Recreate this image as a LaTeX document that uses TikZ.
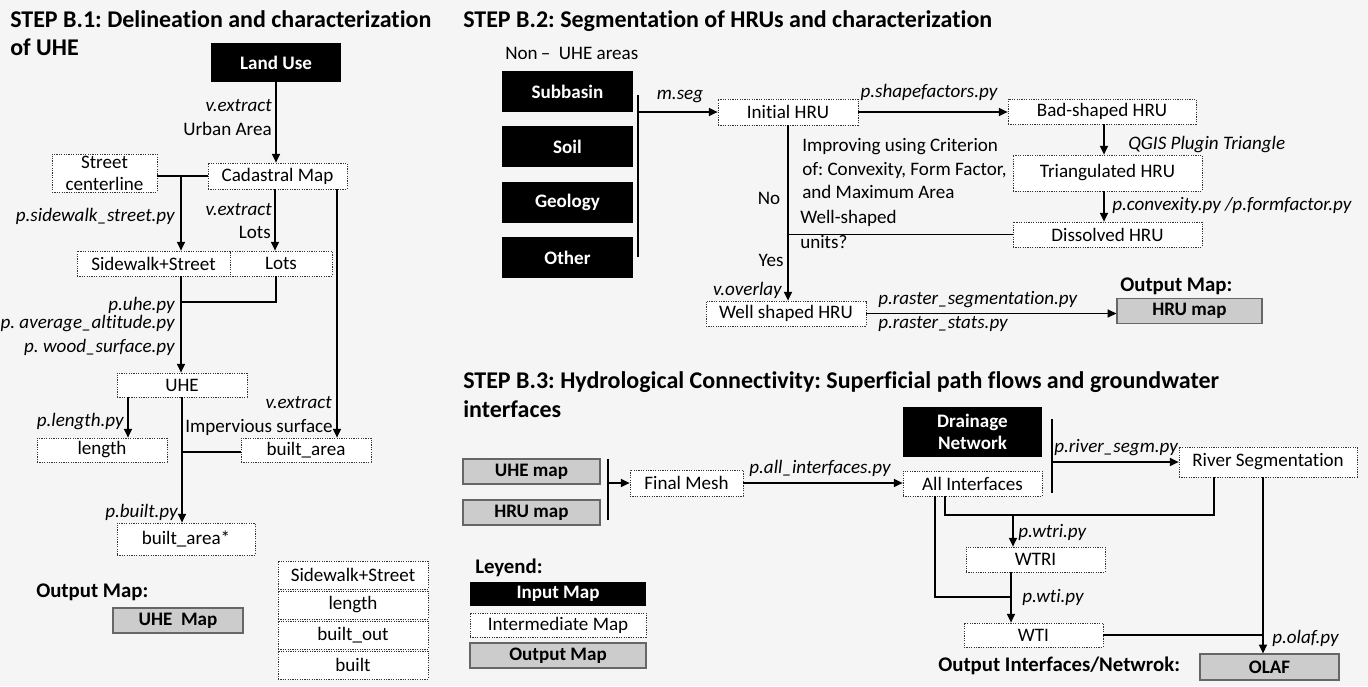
\documentclass[tikz,border=0pt]{standalone}
\usepackage{fontspec}
\setmainfont{Carlito}[Ligatures=NoCommon]
\usetikzlibrary{arrows.meta}
\frenchspacing
\begin{document}
\begin{tikzpicture}[x=0.75pt,y=-0.75pt,
  every node/.style={font=\fontsize{14.3}{17}\selectfont, inner sep=0pt},
  wh/.style 2 args={minimum width={#1*0.75pt}, minimum height={#2*0.75pt}},
  inmap/.style={fill=black, text=white, font=\fontsize{14.3}{16.5}\selectfont\bfseries, align=center},
  midmap/.style={draw=black!80, dash pattern=on 0.9pt off 0.9pt, line width=0.6pt, fill=white, align=center},
  outmap/.style={fill=black!20, draw=black!60, line width=0.9pt, font=\fontsize{14.3}{17}\selectfont\bfseries},
  lab/.style={font=\fontsize{14.3}{17}\selectfont\itshape},
  txt/.style={font=\fontsize{14.3}{17}\selectfont},
  ttl/.style={font=\fontsize{18}{22}\selectfont\bfseries, anchor=base west},
  bld/.style={font=\fontsize{15.6}{19}\selectfont\bfseries},
  flow/.style={line width=1pt, -{Triangle[length=6.5pt,width=6pt]}},
  link/.style={line width=1pt},
]
\fill[black!4] (0,0) rectangle (1368,686);
\useasboundingbox (0,0) rectangle (1368,686);

% ================= STEP B.1 =================
\node[ttl] (t1a) at (10,27) {STEP B.1: Delineation and characterization};
\node[ttl] (t1b) at (10,55) {of UHE};
\node[inmap, wh={130}{39}] (landuse) at (276,62.5) {Land Use};
\node[midmap, wh={139}{26}] (cad) at (277.5,176) {Cadastral Map};
\node[midmap, wh={105}{38}, font=\fontsize{14.3}{16.5}\selectfont] (street) at (104.5,173) {Street\\centerline};
\node[midmap, wh={153}{25}] (sws) at (153.5,263.5) {Sidewalk+Street};
\node[midmap, wh={102}{25}] (lots) at (281,263.5) {Lots};
\node[midmap, wh={130}{24}] (uhe) at (182,385) {UHE};
\node[midmap, wh={130}{24}] (len) at (102,450) {length};
\node[midmap, wh={130}{24}] (barea) at (306,450) {built\_area};
\node[midmap, wh={138}{32}] (bstar) at (186,539) {built\_area*};
\node[bld, anchor=west] (om1) at (36,592) {Output Map:};
\node[outmap, wh={130}{25}] (uhemap) at (178,620.5) {UHE\ \ Map};
\node[midmap, wh={150}{28}] (k1) at (353,575) {Sidewalk+Street};
\node[midmap, wh={150}{28}] (k2) at (353,605) {length};
\node[midmap, wh={150}{28}] (k3) at (353,635) {built\_out};
\node[midmap, wh={150}{28}] (k4) at (353,665) {built};

\node[lab, anchor=east] (l1) at (272,106) {v.extract};
\node[txt, anchor=east] (l2) at (272,129) {Urban Area};
\node[lab, anchor=east] (l3) at (175,216) {p.sidewalk\_street.py};
\node[lab, anchor=east] (l4) at (272,210) {v.extract};
\node[txt, anchor=east] (l5) at (271,232) {Lots};
\node[lab, anchor=east] (l6) at (175,305) {p.uhe.py};
\node[lab, anchor=east] (l7) at (175,324) {p. average\_altitude.py};
\node[lab, anchor=east] (l8) at (175,347) {p. wood\_surface.py};
\node[lab, anchor=east] (l9) at (124,422) {p.length.py};
\node[lab, anchor=east] (l10) at (332,403) {v.extract};
\node[txt, anchor=east] (l11) at (333,427) {Impervious surface};
\node[lab, anchor=east] (l12) at (178,512) {p.built.py};

\coordinate (j1) at (181,176);
\coordinate (x275) at (275,0);
\coordinate (x276) at (276,0);
\coordinate (x337) at (337,0);
\coordinate (x181) at (181,0);
\coordinate (x182) at (182,0);
\coordinate (x128) at (128,0);
\coordinate (j2) at (181,302);
\coordinate (j3) at (182,452);
\draw[flow] (landuse.south) -- (landuse.south |- cad.north);
\draw[link] (street.east |- cad.west) -- (cad.west);
\draw[flow] (j1) -- (j1 |- sws.north);
\draw[flow] (x275 |- cad.south) -- (x275 |- lots.north);
\draw[flow] (x337 |- cad.south) -- (x337 |- barea.north);
\draw[flow] (x181 |- sws.south) -- (x181 |- uhe.north);
\draw[link] (x276 |- lots.south) |- (j2);
\draw[flow] (x128 |- uhe.south) -- (x128 |- len.north);
\draw[flow] (x182 |- uhe.south) -- (x182 |- bstar.north);
\draw[link] (j3) -- (j3 -| barea.west);

% ================= STEP B.2 =================
\node[ttl] (t2) at (463,27) {STEP B.2: Segmentation of HRUs and characterization};
\node[txt, anchor=west] (nonuhe) at (505,53) {Non\,–\ \ UHE areas};
\node[inmap, wh={131}{41}] (sub) at (567.5,91.5) {Subbasin};
\node[inmap, wh={131}{41}] (soil) at (567.5,146.5) {Soil};
\node[inmap, wh={131}{41}] (geo) at (567.5,202) {Geology};
\node[inmap, wh={131}{41}] (oth) at (567.5,257.5) {Other};
\node[midmap, wh={140}{26}] (ini) at (788,112) {Initial HRU};
\node[midmap, wh={188}{25}] (bad) at (1102,111.5) {Bad-shaped HRU};
\node[midmap, wh={189}{36}] (tri) at (1107.5,173) {Triangulated HRU};
\node[midmap, wh={189}{25}] (diss) at (1107.5,234.5) {Dissolved HRU};
\node[midmap, wh={160}{25}] (well) at (786,313.5) {Well shaped HRU};
\node[bld, anchor=west] (om2) at (1120,286) {Output Map:};
\node[outmap, wh={145}{25}] (hrumap) at (1189.5,311) {HRU map};

\node[lab] (mseg) at (680,97) {m.seg};
\node[lab] (shp) at (929,92) {p.shapefactors.py};
\node[lab, anchor=west] (qgis) at (1128,145) {QGIS Plugin Triangle};
\node[lab, anchor=west] (conv) at (1112,205) {p.convexity.py /p.formfactor.py};
\node[txt, anchor=west] (imp1) at (802,147) {Improving using Criterion};
\node[txt, anchor=west] (imp2) at (802,170) {of: Convexity, Form Factor,};
\node[txt, anchor=west] (imp3) at (802,192) {and Maximum Area};
\node[txt, anchor=west] (ws1) at (800,218) {Well-shaped};
\node[txt, anchor=west] (ws2) at (800,242) {units?};
\node[txt] (no) at (769,198) {No};
\node[txt] (yes) at (771,260) {Yes};
\node[lab, anchor=east] (vov) at (782,290) {v.overlay};
\node[lab, anchor=west] (rseg) at (878,300) {p.raster\_segmentation.py};
\node[lab, anchor=west] (rst) at (878,324) {p.raster\_stats.py};

\coordinate (v1a) at (638,95);
\coordinate (v1b) at (638,257);
\coordinate (x1104) at (1104,0);
\draw[link] (v1a) -- (v1b);
\draw[flow] (v1a |- ini.west) -- (ini.west);
\draw[flow] (ini.east) -- (ini.east -| bad.west);
\draw[flow] (x1104 |- bad.south) -- (x1104 |- tri.north);
\draw[flow] (x1104 |- tri.south) -- (x1104 |- diss.north);
\draw[link] (diss.west) -- (diss.west -| ini.south);
\draw[flow] (ini.south) -- (ini.south |- well.north);
\draw[flow] (well.east) -- (well.east -| hrumap.west);

% ================= STEP B.3 =================
\node[ttl] (t3a) at (463,388) {STEP B.3: Hydrological Connectivity: Superficial path flows and groundwater};
\node[ttl] (t3b) at (463,417) {interfaces};
\node[outmap, wh={137}{25}] (uhemap2) at (531.5,471.5) {UHE map};
\node[outmap, wh={137}{25}] (hrumap2) at (531.5,512.5) {HRU map};
\node[midmap, wh={113}{26}] (fmesh) at (686.5,483) {Final Mesh};
\node[inmap, wh={139}{50}] (drain) at (972.5,432) {Drainage\\Network};
\node[midmap, wh={139}{25}] (allint) at (972.5,483.5) {All Interfaces};
\node[midmap, wh={178}{30}] (river) at (1268,462) {River Segmentation};
\node[midmap, wh={139}{25}] (wtri) at (1035.5,559.5) {WTRI};
\node[midmap, wh={139}{24}] (wti) at (1033.5,635) {WTI};
\node[outmap, wh={139}{26}] (olaf) at (1269.5,667) {OLAF};
\node[bld, anchor=west] (oif) at (938,666) {Output Interfaces/Netwrok:};
\node[bld, anchor=west] (ley) at (475,568) {Leyend:};
\node[inmap, wh={176}{24}] (lg1) at (558,594) {Input Map};
\node[midmap, wh={176}{24}] (lg2) at (558,625) {Intermediate Map};
\node[outmap, wh={176}{25}] (lg3) at (558,655.5) {Output Map};

\node[lab] (allpy) at (820,468) {p.all\_interfaces.py};
\node[lab, anchor=west] (rivpy) at (1054,448) {p.river\_segm.py};
\node[lab, anchor=west] (wtripy) at (1018,532) {p.wtri.py};
\node[lab, anchor=west] (wtipy) at (1022,597) {p.wti.py};
\node[lab, anchor=west] (olafpy) at (1272,638) {p.olaf.py};

\coordinate (v2a) at (608,459);
\coordinate (v2b) at (608,520);
\coordinate (v3a) at (1052,419);
\coordinate (v3b) at (1052,493);
\coordinate (h1) at (945,515);
\coordinate (h2) at (1214,515);
\coordinate (h3) at (1013,515);
\coordinate (h4) at (935,597);
\coordinate (h5) at (1011,597);
\coordinate (x1011) at (1011,0);
\coordinate (x1263) at (1263,0);
\draw[link] (v2a) -- (v2b);
\draw[flow] (v2a |- fmesh.west) -- (fmesh.west);
\draw[flow] (fmesh.east) -- (fmesh.east -| allint.west);
\draw[link] (v3a) -- (v3b);
\draw[flow] (v3a |- river.west) -- (river.west);
\draw[link] (h1 |- allint.south) -- (h1) -- (h2) -- (h2 |- river.south);
\draw[flow] (h3) -- (h3 |- wtri.north);
\draw[flow] (x1011 |- wtri.south) -- (x1011 |- wti.north);
\draw[link] (h4 |- allint.south) -- (h4) -- (h5);
\draw[link] (wti.east) -- (wti.east -| x1263);
\draw[flow] (x1263 |- river.south) -- (x1263 |- olaf.north);
\end{tikzpicture}
\end{document}
